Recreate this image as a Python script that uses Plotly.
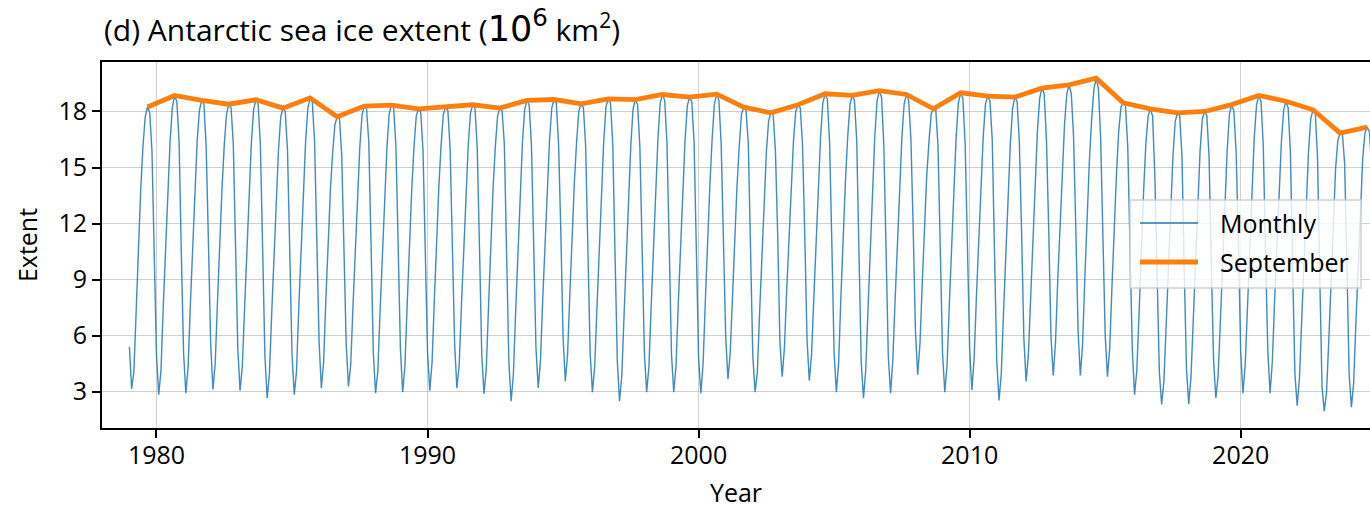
import numpy as np
import plotly.graph_objects as go

# Antarctic sea ice extent, monthly means (10^6 km^2), one list per calendar month
years = list(range(1979, 2025))

jan = [5.40, 4.95, 5.05, 5.55, 5.30, 4.90, 5.00, 5.60, 5.50, 5.05,
       5.25, 5.10, 5.55, 5.00, 4.60, 5.35, 5.90, 5.05, 4.65, 5.10,
       5.00, 4.80, 5.95, 4.90, 5.65, 5.80, 5.05, 4.55, 4.85, 6.25,
       5.05, 5.25, 4.65, 5.85, 5.95, 6.30, 6.05, 5.30, 4.00, 4.20,
       4.65, 5.10, 5.20, 3.95, 3.25, 3.95]
feb = [3.15, 2.83, 2.91, 3.11, 3.05, 2.66, 2.83, 3.18, 3.27, 2.91,
       2.97, 3.05, 3.18, 2.88, 2.48, 3.20, 3.55, 2.97, 2.48, 2.97,
       2.97, 2.91, 3.68, 2.97, 3.80, 3.59, 2.97, 2.66, 2.91, 3.91,
       2.97, 3.09, 2.52, 3.54, 3.86, 3.86, 3.80, 2.83, 2.31, 2.34,
       2.66, 2.91, 2.91, 2.25, 1.95, 2.17]
mar = [4.05, 4.15, 4.30, 4.50, 4.35, 3.95, 4.10, 4.60, 4.45, 4.10,
       4.40, 4.55, 4.40, 4.20, 3.90, 4.65, 5.00, 4.35, 3.85, 4.30,
       4.35, 4.50, 5.05, 4.00, 5.35, 4.95, 4.55, 4.15, 4.70, 5.55,
       4.40, 4.80, 3.95, 4.95, 5.60, 5.55, 5.30, 4.10, 3.55, 3.80,
       3.85, 4.45, 4.60, 3.70, 2.95, 3.45]
apr = [7.40, 7.55, 7.65, 7.80, 7.45, 7.15, 7.50, 7.95, 7.60, 7.30,
       7.70, 7.85, 7.60, 7.55, 7.25, 7.95, 8.20, 7.45, 7.10, 7.55,
       7.70, 7.90, 8.05, 7.20, 8.40, 7.95, 8.05, 7.40, 7.90, 8.75,
       7.65, 8.10, 7.25, 8.00, 8.95, 9.10, 8.60, 7.15, 6.55, 6.85,
       6.75, 7.50, 7.85, 6.80, 5.75, 6.70]
may = [10.55, 10.70, 10.85, 10.95, 10.60, 10.35, 10.75, 11.05, 10.75, 10.50,
       10.90, 11.00, 10.70, 10.80, 10.45, 11.10, 11.35, 10.70, 10.30, 10.85,
       10.90, 11.20, 11.10, 10.35, 11.40, 11.20, 11.30, 10.85, 11.10, 11.80,
       10.90, 11.30, 10.40, 11.20, 12.00, 12.30, 11.80, 10.60, 9.85, 10.15,
       10.05, 10.85, 10.95, 10.05, 8.90, 9.95]
jun = [13.75, 13.70, 13.90, 13.85, 13.70, 13.35, 13.85, 13.80, 13.70, 13.45,
       13.80, 13.95, 13.70, 13.85, 13.55, 14.00, 14.20, 13.80, 13.50, 13.95,
       13.85, 14.05, 14.00, 13.35, 14.20, 14.15, 14.25, 14.05, 14.10, 14.55,
       13.95, 14.25, 13.50, 14.25, 14.85, 15.35, 14.65, 13.70, 12.95, 13.30,
       13.10, 14.00, 13.95, 13.05, 11.80, 12.70]
jul = [16.10, 16.35, 16.40, 16.20, 16.30, 15.90, 16.35, 15.80, 16.05, 16.00,
       16.10, 16.20, 16.15, 16.10, 16.30, 16.45, 16.40, 16.40, 16.20, 16.55,
       16.45, 16.55, 16.15, 15.80, 16.40, 16.65, 16.60, 16.65, 16.60, 16.40,
       16.60, 16.65, 16.25, 16.95, 17.30, 17.55, 16.95, 16.25, 15.60, 15.85,
       15.90, 16.60, 16.35, 15.80, 14.95, 15.45]
aug = [17.70, 18.20, 18.05, 17.85, 18.10, 17.70, 18.15, 17.30, 17.80, 17.85,
       17.75, 17.85, 17.90, 17.75, 18.10, 18.20, 18.05, 18.25, 18.15, 18.45,
       18.30, 18.40, 17.85, 17.50, 18.00, 18.45, 18.35, 18.55, 18.40, 17.90,
       18.45, 18.40, 18.15, 18.70, 18.95, 19.20, 18.25, 17.75, 17.45, 17.60,
       17.85, 18.35, 18.05, 17.60, 16.45, 16.85]
sep = [18.24, 18.86, 18.59, 18.39, 18.63, 18.18, 18.73, 17.72, 18.29, 18.34,
       18.14, 18.23, 18.36, 18.18, 18.59, 18.64, 18.41, 18.68, 18.64, 18.91,
       18.77, 18.93, 18.23, 17.93, 18.36, 18.95, 18.86, 19.12, 18.91, 18.14,
       19.00, 18.82, 18.77, 19.25, 19.43, 19.78, 18.46, 18.14, 17.93, 18.00,
       18.37, 18.86, 18.55, 18.09, 16.84, 17.16]
oct = [17.95, 18.55, 18.40, 18.20, 18.40, 18.00, 18.50, 17.65, 18.15, 18.20,
       17.95, 18.05, 18.20, 18.05, 18.35, 18.45, 18.20, 18.45, 18.35, 18.60,
       18.50, 18.60, 18.05, 17.85, 18.20, 18.65, 18.60, 18.75, 18.60, 18.10,
       18.70, 18.55, 18.55, 18.95, 18.95, 19.25, 18.30, 17.75, 17.75, 17.80,
       18.00, 18.55, 18.20, 17.95, 16.85, 16.90]
nov = [15.90, 16.40, 16.10, 16.30, 16.20, 15.95, 16.35, 15.70, 16.35, 16.15,
       15.90, 16.00, 16.05, 16.25, 16.20, 16.30, 16.15, 16.25, 16.10, 16.30,
       16.35, 16.25, 16.30, 15.95, 16.25, 16.35, 16.45, 16.20, 16.50, 16.15,
       16.30, 16.50, 16.35, 16.50, 16.65, 16.55, 16.10, 14.50, 15.60, 15.55,
       15.75, 16.15, 15.85, 15.60, 15.25, 14.90]
dec = [10.85, 10.40, 11.00, 11.20, 10.65, 10.55, 11.05, 11.20, 10.85, 10.80,
       10.70, 10.95, 10.70, 10.40, 10.85, 11.60, 10.80, 10.45, 10.70, 10.80,
       10.65, 11.35, 10.60, 11.50, 11.45, 10.90, 10.35, 10.55, 11.75, 10.80,
       10.95, 10.50, 11.55, 11.70, 11.75, 11.85, 10.90, 8.80, 9.45, 9.75,
       10.80, 10.40, 9.55, 9.20, 9.95, 9.40]

# Continuous monthly series on a decimal-year axis
months = [jan, feb, mar, apr, may, jun, jul, aug, sep, oct, nov, dec]
yrs = np.array(years, dtype=float)
monthly_vals = np.column_stack(months).ravel()
monthly_x = (yrs[:, None] + np.arange(12)[None, :] / 12.0).ravel()
sep_x = yrs + 8 / 12.0

FONT = "Open Sans"
W, H = 1370, 509
L, R, T, B = 102, 0, 62, 81
PW, PH = W - L - R, H - T - B


def px_x(px):
    return (px - L) / PW


def px_y(py):
    return (H - B - py) / PH


fig = go.Figure()
fig.add_trace(go.Scatter(
    x=monthly_x, y=monthly_vals, mode="lines", name="Monthly",
    line=dict(color="#1f77b4", width=1.4), opacity=0.85, showlegend=False))
fig.add_trace(go.Scatter(
    x=sep_x, y=sep, mode="lines", name="September",
    line=dict(color="#ff7f0e", width=4.8), showlegend=False))

# Legend box with line samples
shapes = [
    dict(type="rect", xref="paper", yref="paper",
         x0=px_x(1130), x1=px_x(1361), y0=px_y(288), y1=px_y(200),
         fillcolor="rgba(255,255,255,0.8)",
         line=dict(color="rgba(204,204,204,0.9)", width=1.5), layer="above"),
    dict(type="line", xref="paper", yref="paper",
         x0=px_x(1140), x1=px_x(1198), y0=px_y(223), y1=px_y(223),
         line=dict(color="#1f77b4", width=1.4), layer="above"),
    dict(type="line", xref="paper", yref="paper",
         x0=px_x(1140), x1=px_x(1198), y0=px_y(262), y1=px_y(262),
         line=dict(color="#ff7f0e", width=4.8), layer="above"),
]
annotations = [
    dict(text="Monthly", xref="paper", yref="paper", x=px_x(1218), y=px_y(223),
         xanchor="left", yanchor="middle", showarrow=False,
         font=dict(family=FONT, size=25, color="black")),
    dict(text="September", xref="paper", yref="paper", x=px_x(1218), y=px_y(262),
         xanchor="left", yanchor="middle", showarrow=False,
         font=dict(family=FONT, size=25, color="black")),
    dict(text="(d) Antarctic sea ice extent (<span style='font-family:DejaVu Sans;font-size:35px'>10<sup>6</sup></span> km<sup>2</sup>)",
         xref="paper", yref="paper", x=px_x(102), y=px_y(52),
         xanchor="left", yanchor="bottom", showarrow=False,
         font=dict(family=FONT, size=30, color="black")),
]

fig.update_layout(
    width=W, height=H,
    margin=dict(l=L, r=R, t=T, b=B, pad=0),
    paper_bgcolor="white", plot_bgcolor="white",
    font=dict(family=FONT, size=25, color="black"),
    shapes=shapes, annotations=annotations,
    showlegend=False,
)
fig.update_xaxes(
    range=[1977.99, 2024.77], tick0=1980, dtick=10,
    showgrid=True, gridcolor="rgba(176,176,176,0.6)", gridwidth=1,
    showline=True, linecolor="black", linewidth=2, mirror=True,
    ticks="outside", ticklen=8, tickwidth=2, tickcolor="black",
    tickfont=dict(family=FONT, size=25), zeroline=False,
    ticklabelstandoff=-4,
    title=dict(text="Year", font=dict(family=FONT, size=25), standoff=18),
)
fig.update_yaxes(
    range=[1.05, 20.65], tickvals=[3, 6, 9, 12, 15, 18],
    showgrid=True, gridcolor="rgba(176,176,176,0.6)", gridwidth=1,
    showline=True, linecolor="black", linewidth=2, mirror=False,
    ticks="outside", ticklen=8, tickwidth=2, tickcolor="black",
    tickfont=dict(family=FONT, size=25), zeroline=False,
    title=dict(text="Extent", font=dict(family=FONT, size=25), standoff=14),
)

fig.write_html("out.html")
